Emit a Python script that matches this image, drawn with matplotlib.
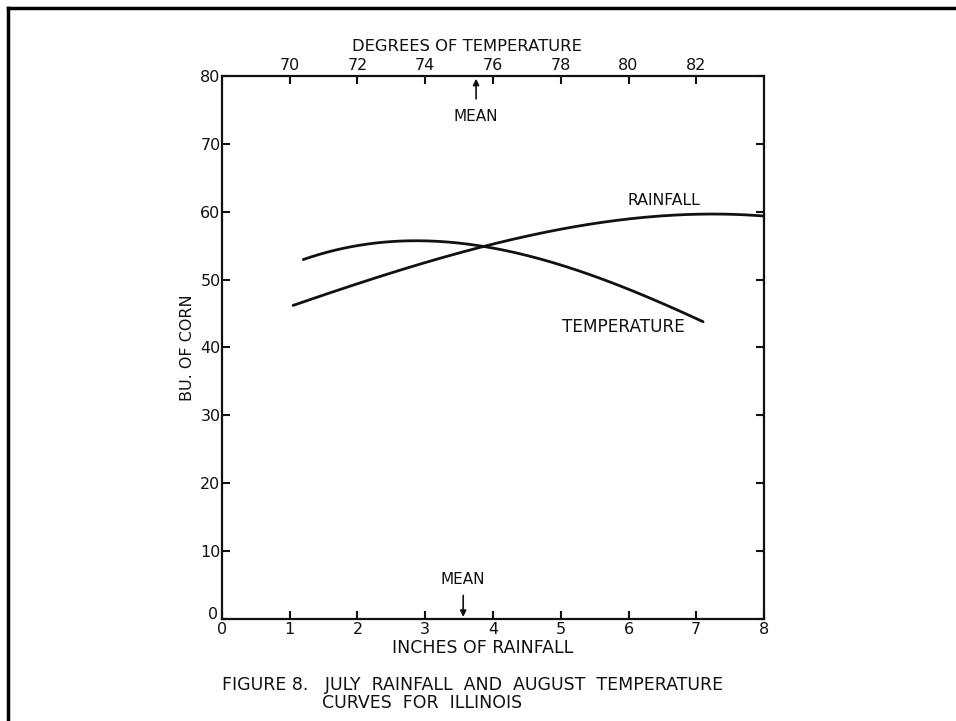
import matplotlib
matplotlib.use("Agg")
import matplotlib.pyplot as plt
from matplotlib.lines import Line2D
from matplotlib.transforms import ScaledTranslation
import numpy as np

plt.rcParams['font.family'] = ['DejaVu Sans']

# July rainfall (inches) vs. yield (bushels of corn)
rain_in = [1.05, 2.0, 3.0, 3.8, 5.0, 6.0, 7.0, 8.0]
rain_bu = [46.2, 49.4, 52.4, 55.0, 57.2, 58.9, 59.8, 59.3]

# August temperature (degrees F) vs. yield
temp_deg = [70.4, 72.0, 74.0, 75.6, 78.0, 80.0, 82.2]
temp_bu = [53.0, 54.9, 55.8, 55.0, 52.1, 48.6, 43.8]

rain_mean = 3.56
temp_mean = 75.5

x_ticks = [0, 1, 2, 3, 4, 5, 6, 7, 8]
y_ticks = [0, 10, 20, 30, 40, 50, 60, 70, 80]
t_ticks = [70, 72, 74, 76, 78, 80, 82]

ink = "#111111"
fig = plt.figure(figsize=(9.56, 7.21), dpi=100)
ax = fig.add_axes([0.2322, 0.1415, 0.567, 0.7531])
ax.set_xlim(0, 8)
ax.set_ylim(0, 80)

for s in ax.spines.values():
    s.set_linewidth(1.6)
    s.set_color(ink)

def smooth(xs, ys, n=200):
    xs = np.asarray(xs, float)
    ys = np.asarray(ys, float)
    c = np.polyfit(xs, ys, 3)
    xx = np.linspace(xs[0], xs[-1], n)
    return xx, np.polyval(c, xx)

xx, yy = smooth(rain_in, rain_bu)
ax.plot(xx, yy, color=ink, lw=2.0, solid_capstyle='round')

ax.set_xticks(x_ticks)
ax.set_xticklabels([str(v) for v in x_ticks], fontsize=11.5)
ax.set_yticks(y_ticks)
ax.set_yticklabels([str(v) for v in y_ticks], fontsize=11.5)
ax.tick_params(axis='both', direction='in', length=6, width=1.5, color=ink,
               labelcolor=ink, pad=2)
ax.tick_params(axis='y', right=True, pad=1)

# lift the zero on the value axis off the corner
zero_lbl = ax.get_yticklabels()[0]
zero_lbl.set_transform(zero_lbl.get_transform() +
                       ScaledTranslation(-2 / 72, 4 / 72, fig.dpi_scale_trans))

ax.set_xlabel("INCHES OF RAINFALL", fontsize=12.5, color=ink)
ax.xaxis.set_label_coords(0.4815, -0.036)
ax.set_ylabel("BU. OF CORN", fontsize=11.5, labelpad=4, color=ink)

# temperature scale on top
ax2 = ax.twiny()
ax2.set_xlim(68, 84)
ax2.set_xticks(t_ticks)
ax2.set_xticklabels([str(t) for t in t_ticks], fontsize=11.5)
ax2.tick_params(axis='x', direction='in', length=6, width=1.5, color=ink,
                labelcolor=ink, pad=2)
for s in ax2.spines.values():
    s.set_visible(False)
ax2.set_xlabel("DEGREES OF TEMPERATURE", fontsize=11.8, color=ink)
ax2.xaxis.set_label_coords(0.452, 1.046)

tx, ty = smooth(temp_deg, temp_bu)
ax2.plot(tx, ty, color=ink, lw=2.0, solid_capstyle='round')

# mean markers
ax2.annotate("MEAN", xy=(temp_mean, 79.6), xytext=(temp_mean, 74.1),
             ha='center', va='center', fontsize=11, color=ink,
             arrowprops=dict(arrowstyle='-|>', color=ink, lw=1.2,
                             shrinkA=5, shrinkB=0, mutation_scale=9))
ax.annotate("MEAN", xy=(rain_mean, 0.3), xytext=(rain_mean, 5.8),
            ha='center', va='center', fontsize=11, color=ink,
            arrowprops=dict(arrowstyle='-|>', color=ink, lw=1.2,
                            shrinkA=4, shrinkB=0, mutation_scale=9))

ax.text(6.52, 61.7, "RAINFALL", fontsize=11.3, ha='center', va='center', color=ink)
ax.text(5.92, 43.0, "TEMPERATURE", fontsize=12.2, ha='center', va='center', color=ink)

fig.text(222 / 956, 1 - 685 / 721,
         "FIGURE 8.   JULY  RAINFALL  AND  AUGUST  TEMPERATURE",
         fontsize=12.5, ha='left', va='center', color=ink)
fig.text(322 / 956, 1 - 703 / 721, "CURVES  FOR  ILLINOIS",
         fontsize=12.5, ha='left', va='center', color=ink)

# page frame
fig.add_artist(Line2D([8 / 956, 1.0], [1 - 8 / 721, 1 - 8 / 721],
                      transform=fig.transFigure, color='black', lw=2.5))
fig.add_artist(Line2D([8 / 956, 8 / 956], [0.0, 1 - 8 / 721],
                      transform=fig.transFigure, color='black', lw=2.5))

fig.savefig("out.png", dpi=100, facecolor='white')
